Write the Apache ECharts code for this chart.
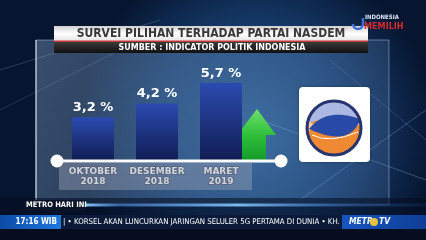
<!DOCTYPE html>
<html><head><meta charset="utf-8">
<script src="https://cdn.jsdelivr.net/npm/echarts@6/dist/echarts.min.js"></script>
<style>html,body{margin:0;padding:0;background:#0a1a35;}#c{width:426px;height:240px;}</style>
</head><body><div id="c"></div>
<script>
var categories = ['OKTOBER\n2018', 'DESEMBER\n2018', 'MARET\n2019'];
var values = [3.2, 4.2, 5.7];
var titleText = 'SURVEI PILIHAN TERHADAP PARTAI NASDEM';
var subtitleText = 'SUMBER : INDICATOR POLITIK INDONESIA';
var tickerText = '| \u2022 KORSEL AKAN LUNCURKAN JARINGAN SELULER 5G PERTAMA DI DUNIA \u2022 KH.';

var chart = echarts.init(document.getElementById('c'), null, {renderer: 'canvas'});
var narrow = '"Liberation Sans Narrow","DejaVu Sans Condensed",sans-serif';

function quad(p0, c, p1, n) {
  var pts = [];
  for (var i = 0; i <= n; i++) {
    var t = i / n, u = 1 - t;
    pts.push([u*u*p0[0] + 2*u*t*c[0] + t*t*p1[0], u*u*p0[1] + 2*u*t*c[1] + t*t*p1[1]]);
  }
  return pts;
}
function arcPts(cx, cy, r, a0, a1, n) {
  var pts = [];
  for (var i = 0; i <= n; i++) {
    var a = (a0 + (a1 - a0) * i / n) * Math.PI / 180;
    pts.push([cx + r * Math.cos(a), cy + r * Math.sin(a)]);
  }
  return pts;
}
var LX = 334, LY = 128, LR = 27;
var topRegion = arcPts(LX, LY, LR, -171.5, -12.8, 30).concat(quad([360.3,122], [340,110], [307.3,124], 20));
var lens = quad([309,129], [326,107], [360.5,119], 20).concat(quad([360.5,119], [350,148], [309,129], 20));
var peachL = quad([308,120], [313,126], [318,123], 8).concat([[309,131]]);
var peachR = quad([359,113], [356,120], [349,119], 8).concat([[361,127]]);

var graphics = [
  {type:'rect', z:-20, shape:{x:0,y:0,width:426,height:240},
   style:{fill:{type:'radial',x:0.6,y:0.55,r:0.75,colorStops:[{offset:0,color:'#2d5f96'},{offset:0.55,color:'#173d6e'},{offset:1,color:'#061530'}]}}},
  {type:'line', z:-19, shape:{x1:0,y1:70,x2:160,y2:20}, style:{stroke:'rgba(150,190,240,0.25)',lineWidth:1}},
  {type:'line', z:-19, shape:{x1:0,y1:110,x2:140,y2:40}, style:{stroke:'rgba(150,190,240,0.2)',lineWidth:1}},
  {type:'line', z:-19, shape:{x1:260,y1:120,x2:426,y2:180}, style:{stroke:'rgba(170,200,240,0.3)',lineWidth:1}},
  {type:'line', z:-19, shape:{x1:300,y1:200,x2:426,y2:110}, style:{stroke:'rgba(170,200,240,0.3)',lineWidth:1}},
  {type:'line', z:-19, shape:{x1:330,y1:60,x2:426,y2:140}, style:{stroke:'rgba(170,200,240,0.2)',lineWidth:1}},
  {type:'rect', z:-15, shape:{x:36,y:40,width:353,height:165},
   style:{fill:{type:'linear',x:0,y:0,x2:1,y2:1,colorStops:[{offset:0,color:'rgba(150,185,220,0.35)'},{offset:1,color:'rgba(90,130,180,0.2)'}]},stroke:'rgba(190,215,245,0.45)',lineWidth:1}},
  {type:'line', z:-14, shape:{x1:36,y1:40,x2:36,y2:205}, style:{stroke:'rgba(220,235,255,0.8)',lineWidth:1.2}},
  {type:'rect', z:5, shape:{x:54,y:26,width:314,height:15},
   style:{fill:{type:'linear',x:0,y:0,x2:0,y2:1,colorStops:[{offset:0,color:'#cfcfcf'},{offset:0.5,color:'#ffffff'},{offset:1,color:'#e4e4e4'}]}}},
  {type:'rect', z:5, shape:{x:54,y:40.5,width:314,height:1.5}, style:{fill:'#c83838'}},
  {type:'rect', z:5, shape:{x:54,y:42,width:314,height:11},
   style:{fill:{type:'linear',x:0,y:0,x2:0,y2:1,colorStops:[{offset:0,color:'#3b3b3b'},{offset:1,color:'#101010'}]}}},
  {type:'text', z:6, style:{text:titleText, x:211, y:34, textAlign:'center', textVerticalAlign:'middle',
     font:'bold 12px ' + narrow, fill:'#383838'}},
  {type:'text', z:6, style:{text:subtitleText, x:212, y:48, textAlign:'center', textVerticalAlign:'middle',
     font:'bold 8px "DejaVu Sans",sans-serif', fill:'#ffffff'}},
  {type:'text', z:6, style:{text:'INDONESIA', x:365, y:17, textVerticalAlign:'middle', font:'bold 6px ' + narrow, fill:'#dfe6f5'}},
  {type:'text', z:6, style:{text:'MEMILIH', x:364, y:27, textVerticalAlign:'middle', font:'bold 9px ' + narrow, fill:'#d42a2a'}},
  {type:'arc', z:6, shape:{cx:358,cy:24,r:5,startAngle:0,endAngle:Math.PI,clockwise:true}, style:{fill:null, stroke:'#3f6fd8', lineWidth:2.5}},
  {type:'line', z:6, shape:{x1:363,y1:24,x2:363,y2:18}, style:{stroke:'#3f6fd8', lineWidth:2.5}},
  {type:'rect', z:1, shape:{x:59,y:163,width:193,height:27}, style:{fill:'rgba(150,160,180,0.45)'}},
  {type:'polygon', z:1, shape:{points:[[242,135],[237,135],[257,109],[276,135],[266,135],[266,161],[242,161]]},
   style:{fill:{type:'linear',x:0,y:0,x2:0,y2:1,colorStops:[{offset:0,color:'#6ee06a'},{offset:0.5,color:'#2fbf3a'},{offset:1,color:'#139a2a'}]}}},
  {type:'line', z:10, shape:{x1:57,y1:161,x2:281,y2:161}, style:{stroke:'#ffffff',lineWidth:3}},
  {type:'circle', z:10, shape:{cx:57,cy:161,r:6.5}, style:{fill:'#ffffff'}},
  {type:'circle', z:10, shape:{cx:281,cy:161,r:6.5}, style:{fill:'#ffffff'}},
  {type:'rect', z:5, shape:{x:299,y:87,width:71,height:75,r:4}, style:{fill:'#ffffff', shadowBlur:3, shadowColor:'rgba(0,0,0,0.4)'}},
  {type:'circle', z:6, shape:{cx:LX,cy:LY,r:LR}, style:{fill:'#f08a32'}},
  {type:'polygon', z:6, shape:{points:topRegion}, style:{fill:'#aab8e2'}},
  {type:'polygon', z:6, shape:{points:peachL}, style:{fill:'#f7cfa8'}},
  {type:'polygon', z:6, shape:{points:peachR}, style:{fill:'#f7cfa8'}},
  {type:'polygon', z:6, shape:{points:lens}, style:{fill:'#2a4aa8'}},
  {type:'bezierCurve', z:6, shape:{x1:312,y1:135,cpx1:330,cpy1:144,x2:358,y2:132}, style:{fill:null, stroke:'#ffffff', lineWidth:1}},
  {type:'circle', z:7, shape:{cx:LX,cy:LY,r:LR}, style:{fill:null, stroke:'#26356f', lineWidth:3}},
  {type:'rect', z:5, shape:{x:0,y:198,width:426,height:42}, style:{fill:'rgba(4,12,32,0.55)'}},
  {type:'rect', z:6, shape:{x:85,y:203.5,width:341,height:3},
   style:{fill:{type:'linear',x:0,y:0,x2:1,y2:0,colorStops:[{offset:0,color:'rgba(140,210,255,0.95)'},{offset:0.1,color:'rgba(80,150,240,0.5)'},{offset:0.45,color:'rgba(130,200,255,0.9)'},{offset:0.8,color:'rgba(60,120,220,0.3)'},{offset:1,color:'rgba(60,120,220,0.1)'}]}}},
  {type:'rect', z:6, shape:{x:24,y:200,width:61,height:11}, style:{fill:'#0b1426'}},
  {type:'text', z:7, style:{text:'METRO HARI INI', x:26, y:205.5, textVerticalAlign:'middle', font:'bold 7.5px ' + narrow, fill:'#ffffff'}},
  {type:'rect', z:6, shape:{x:0,y:215,width:61,height:14},
   style:{fill:{type:'linear',x:0,y:0,x2:1,y2:0,colorStops:[{offset:0,color:'#0d4aa6'},{offset:1,color:'#1e78e0'}]}}},
  {type:'text', z:7, style:{text:'17:16 WIB', x:57, y:222, textAlign:'right', textVerticalAlign:'middle', font:'bold 8px ' + narrow, fill:'#ffffff'}},
  {type:'rect', z:6, shape:{x:61,y:215,width:281,height:14}, style:{fill:'#0a1a38'}},
  {type:'text', z:7, style:{text:tickerText, x:63, y:222, textVerticalAlign:'middle', font:'7.8px ' + narrow, fill:'#ffffff'}},
  {type:'rect', z:6, shape:{x:342,y:215,width:84,height:14},
   style:{fill:{type:'linear',x:0,y:0,x2:1,y2:0,colorStops:[{offset:0,color:'#1655c0'},{offset:1,color:'#0f3e96'}]}}},
  {type:'text', z:7, style:{text:'METR', x:349, y:222, textVerticalAlign:'middle', font:'italic bold 8.5px ' + narrow, fill:'#ffffff'}},
  {type:'circle', z:7, shape:{cx:374,cy:222,r:4}, style:{fill:'#e8c23a'}},
  {type:'text', z:7, style:{text:'TV', x:379, y:222, textVerticalAlign:'middle', font:'italic bold 8.5px ' + narrow, fill:'#ffffff'}},
  {type:'rect', z:6, shape:{x:0,y:229,width:426,height:11}, style:{fill:'#050d1f'}}
];

chart.setOption({
  backgroundColor: '#0a1a35',
  animation: false,
  grid: {left: 61, width: 192, top: 79, bottom: 79},
  xAxis: {
    type: 'category', data: categories,
    axisLine: {show: false}, axisTick: {show: false}, splitLine: {show: false},
    axisLabel: {interval: 0, margin: 6, color: '#ffffff', fontFamily: '"DejaVu Sans", sans-serif', fontWeight: 'bold', fontSize: 9,
      lineHeight: 10, textBorderColor: 'rgba(30,40,60,0.85)', textBorderWidth: 1.5}
  },
  yAxis: {type: 'value', min: 0, max: 6, show: false},
  series: [{
    type: 'bar', data: values, barWidth: 42, z: 3,
    itemStyle: {color: {type:'linear',x:0,y:0,x2:0,y2:1,colorStops:[{offset:0,color:'#2c4bb0'},{offset:1,color:'#101c52'}]}},
    label: {show: true, position: 'top', distance: 3, color: '#ffffff',
      fontFamily: '"DejaVu Sans", sans-serif', fontWeight: 'bold', fontSize: 13,
      formatter: function(p){ return String(p.value).replace('.', ',') + ' %'; }}
  }],
  graphic: graphics
});
</script></body></html>
